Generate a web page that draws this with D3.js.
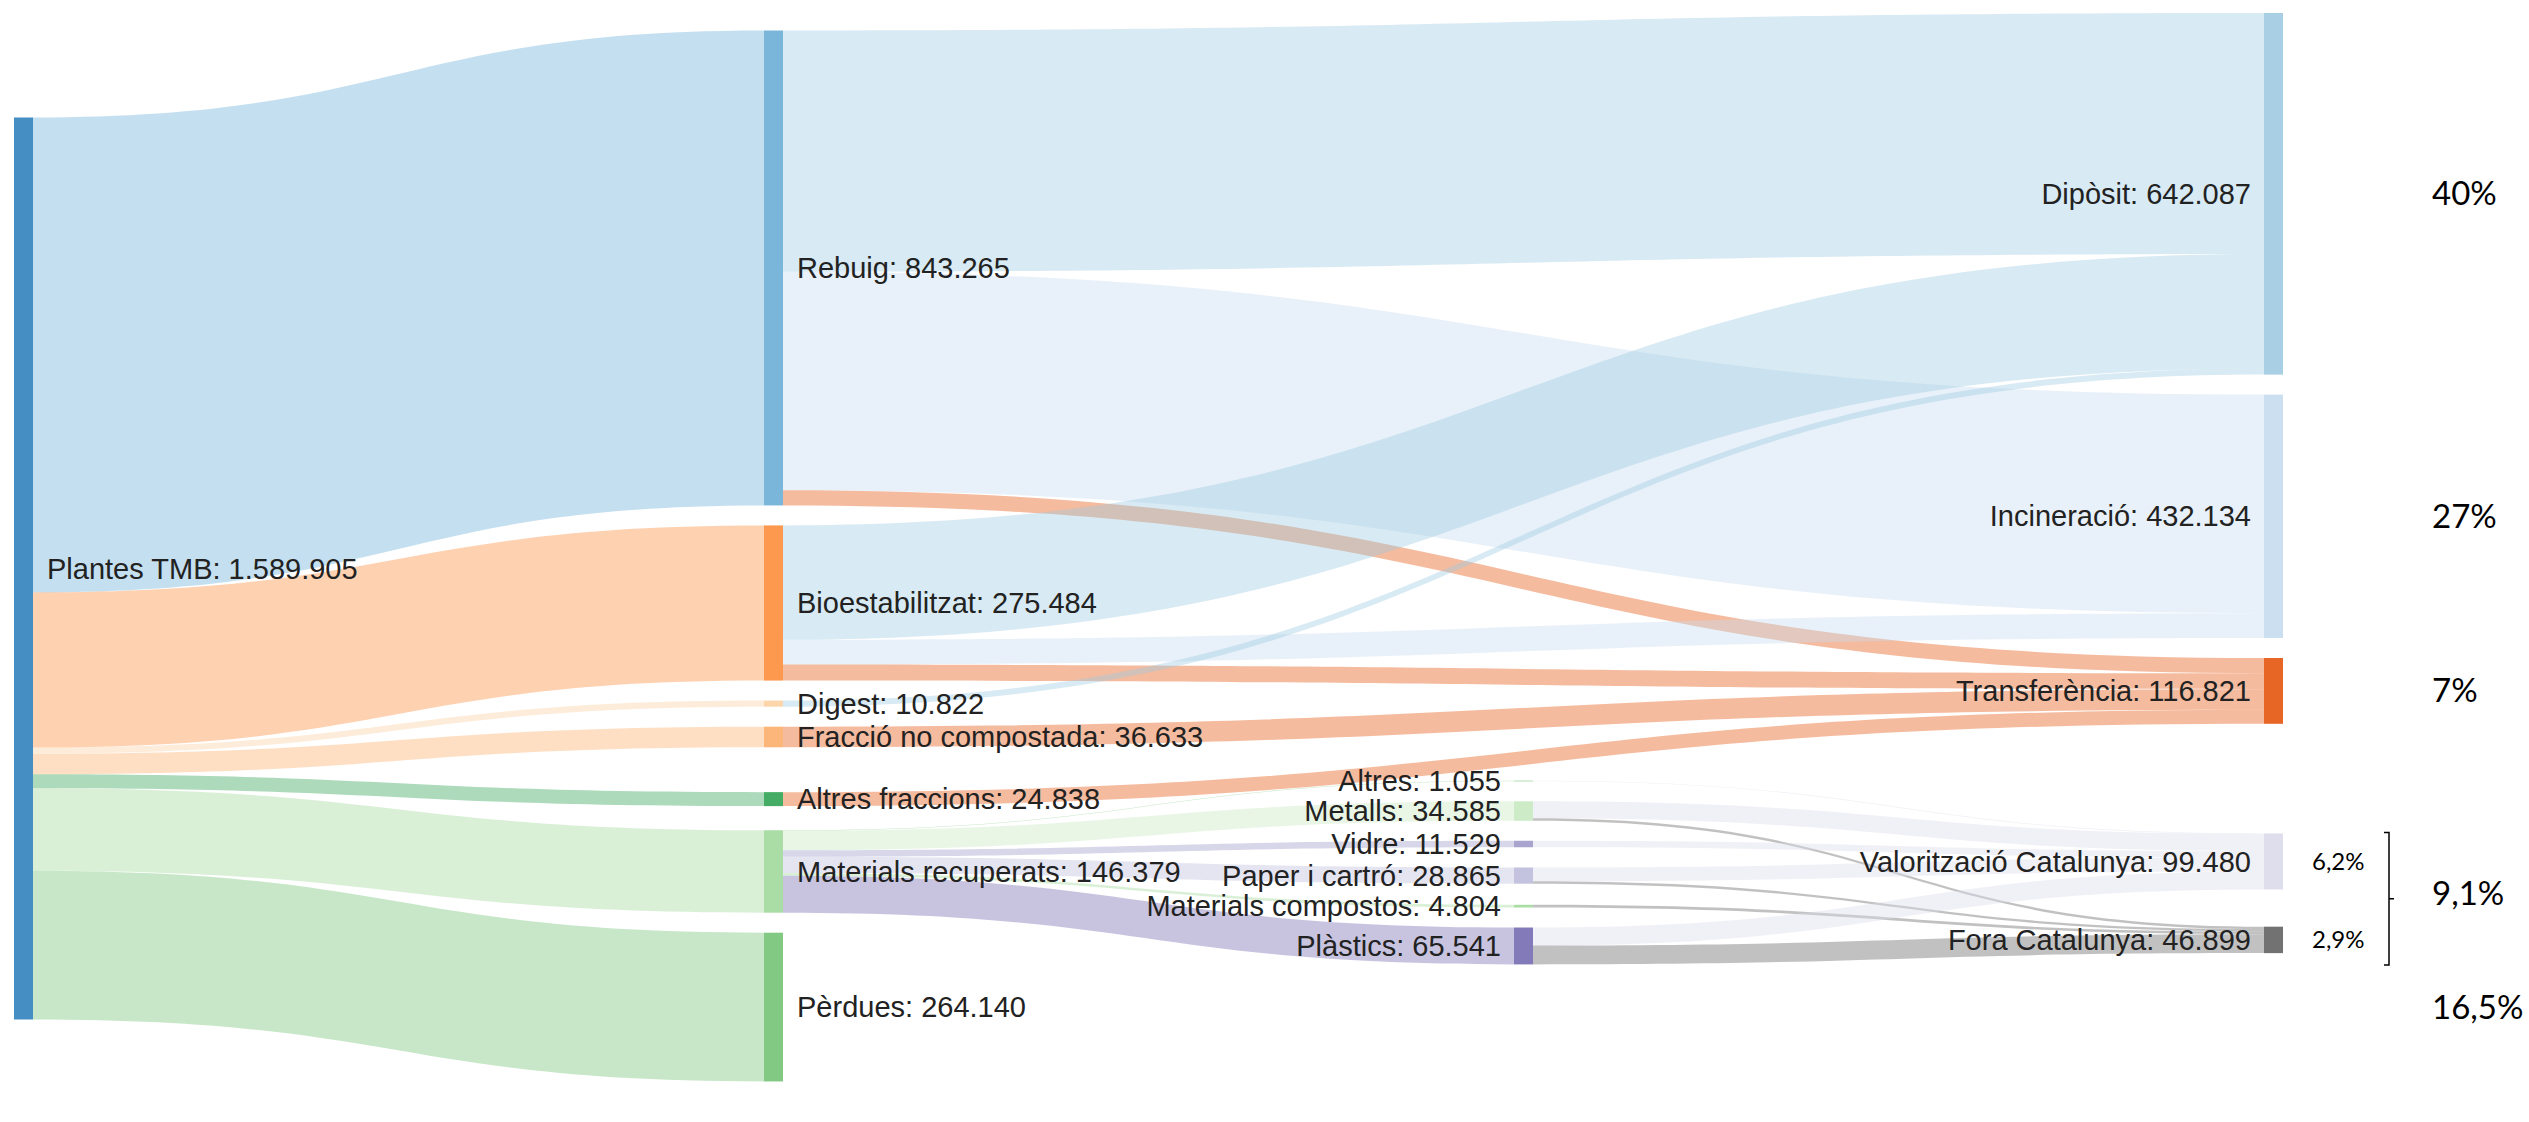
<!DOCTYPE html>
<html>
<head>
<meta charset="utf-8">
<script src="https://cdn.jsdelivr.net/npm/d3@7"></script>
<style>
	body { margin: 0; background: #fff; overflow: hidden; }
	svg { display: block; }
	.node-label { font-family: 'Liberation Sans', Arial, sans-serif; font-size: 29px; fill: #222; }
	.share-big { font-family: Lato, 'Open Sans', sans-serif; font-size: 33px; fill: #000; }
	.share-small { font-family: Lato, 'Open Sans', sans-serif; font-size: 24px; fill: #000; }
</style>
</head>
<body>
<svg id="chart"></svg>
<script>
/* global d3 */

// nodes (in drawing order inside each column)
const nodeNames = [
	'Plantes TMB',
	'Rebuig', 'Bioestabilitzat', 'Digest', 'Fracció no compostada', 'Altres fraccions', 'Materials recuperats', 'Pèrdues',
	'Altres', 'Metalls', 'Vidre', 'Paper i cartró', 'Materials compostos', 'Plàstics',
	'Dipòsit', 'Incineració', 'Transferència', 'Valorització Catalunya', 'Fora Catalunya',
];
const nodeTotals = [
	1589905,
	843265, 275484, 10822, 36633, 24838, 146379, 264140,
	1055, 34585, 11529, 28865, 4804, 65541,
	642087, 432134, 116821, 99480, 46899,
];
const nodeColors = [
	'#3182bd',
	'#6baed6', '#fd8d3c', '#fdd0a2', '#fdae6b', '#31a354', '#a1d99b', '#74c476',
	'#74c476', '#c7e9c0', '#9e9ac8', '#bcbddc', '#a1d99b', '#756bb1',
	'#9ecae1', '#c6dbef', '#e6550d', '#dadaeb', '#636363',
];

// flows (tones)
const linkSources = [
	'Plantes TMB', 'Plantes TMB', 'Plantes TMB', 'Plantes TMB', 'Plantes TMB', 'Plantes TMB', 'Plantes TMB',
	'Rebuig', 'Rebuig', 'Rebuig',
	'Bioestabilitzat', 'Bioestabilitzat', 'Bioestabilitzat',
	'Digest', 'Fracció no compostada', 'Altres fraccions',
	'Materials recuperats', 'Materials recuperats', 'Materials recuperats', 'Materials recuperats', 'Materials recuperats', 'Materials recuperats',
	'Altres', 'Metalls', 'Metalls', 'Vidre', 'Paper i cartró', 'Paper i cartró', 'Materials compostos', 'Plàstics', 'Plàstics',
];
const linkTargets = [
	'Rebuig', 'Bioestabilitzat', 'Digest', 'Fracció no compostada', 'Altres fraccions', 'Materials recuperats', 'Pèrdues',
	'Dipòsit', 'Incineració', 'Transferència',
	'Dipòsit', 'Incineració', 'Transferència',
	'Dipòsit', 'Transferència', 'Transferència',
	'Altres', 'Metalls', 'Vidre', 'Paper i cartró', 'Materials compostos', 'Plàstics',
	'Valorització Catalunya', 'Valorització Catalunya', 'Fora Catalunya', 'Valorització Catalunya',
	'Valorització Catalunya', 'Fora Catalunya', 'Fora Catalunya', 'Valorització Catalunya', 'Fora Catalunya',
];
const linkValues = [
	843265, 275484, 10822, 36633, 24838, 146379, 264140,
	428131, 388134, 27000,
	203134, 44000, 28350,
	10822, 36633, 24838,
	1055, 34585, 11529, 28865, 4804, 65541,
	1055, 30285, 4300, 11529, 24611, 4254, 4804, 32000, 33541,
];

// share annotations on the right
const shareLabels = ['40%', '27%', '7%', '9,1%', '16,5%'];
const shareNodes = [['Dipòsit'], ['Incineració'], ['Transferència'], ['Valorització Catalunya', 'Fora Catalunya'], ['Pèrdues']];
const subShareLabels = ['6,2%', '2,9%'];
const subShareNodes = ['Valorització Catalunya', 'Fora Catalunya'];

const width = 2529;
const height = 1122;
const extent = {x0: 14, x1: 2283, y0: 13, y1: 1124};
const nodeWidth = 19;
const nodePadding = 20;
const bandHeight = 902;
const iterations = 6;

const numberFormat = d3.formatLocale({decimal: ',', thousands: '.', grouping: [3], currency: ['', '']}).format(',');

// ---- build graph
const nodes = nodeNames.map((name, i) => ({
	name, index: i, total: nodeTotals[i], color: nodeColors[i], sourceLinks: [], targetLinks: [],
}));
const byName = new Map(nodes.map(n => [n.name, n]));
const links = linkValues.map((value, i) => {
	const link = {source: byName.get(linkSources[i]), target: byName.get(linkTargets[i]), value, index: i};
	link.source.sourceLinks.push(link);
	link.target.targetLinks.push(link);
	return link;
});

nodes.forEach(n => {
	n.value = Math.max(d3.sum(n.sourceLinks, l => l.value), d3.sum(n.targetLinks, l => l.value));
});

// depth = longest path from the source; end points after the first stage go to the last column
nodes.forEach(n => { n.layer = 0; });
for (let pass = 0; pass < nodes.length; pass++) {
	links.forEach(l => { l.target.layer = Math.max(l.target.layer, l.source.layer + 1); });
}
const maxLayer = d3.max(nodes, n => n.layer);
nodes.forEach(n => {
	if (!n.sourceLinks.length && n.layer > 1) {
		n.layer = maxLayer;
	}
});

const x = d3.scaleLinear().domain([0, maxLayer]).range([extent.x0, extent.x1 - nodeWidth]);
const columns = d3.range(maxLayer + 1).map(k => nodes.filter(n => n.layer === k));
const ky = d3.scaleLinear()
	.domain([0, d3.max(columns, c => d3.sum(c, n => n.value))])
	.range([0, bandHeight]);

nodes.forEach(n => {
	n.x0 = x(n.layer);
	n.x1 = n.x0 + nodeWidth;
});
links.forEach(l => { l.width = ky(l.value); });

// ---- vertical layout (relaxation, order inside each column kept, source column stays centred)
const py = nodePadding;
const byY = (a, b) => a.y0 - b.y0;
const bySourceY = (a, b) => byY(a.source, b.source) || a.index - b.index;
const byTargetY = (a, b) => byY(a.target, b.target) || a.index - b.index;

function reorderNodeLinks(node) {
	node.targetLinks.forEach(l => l.source.sourceLinks.sort(byTargetY));
	node.sourceLinks.forEach(l => l.target.targetLinks.sort(bySourceY));
}

columns.forEach(column => {
	let y = extent.y0;
	column.forEach(n => {
		n.y0 = y;
		n.y1 = y + ky(n.value);
		y = n.y1 + py;
	});
	const spare = (extent.y1 - y + py) / (column.length + 1);
	column.forEach((n, i) => {
		n.y0 += spare * (i + 1);
		n.y1 += spare * (i + 1);
	});
	column.forEach(n => {
		n.sourceLinks.sort(byTargetY);
		n.targetLinks.sort(bySourceY);
	});
});

function targetTop(source, target) {
	let y = source.y0 - (source.sourceLinks.length - 1) * py / 2;
	for (const l of source.sourceLinks) {
		if (l.target === target) break;
		y += l.width + py;
	}
	for (const l of target.targetLinks) {
		if (l.source === source) break;
		y -= l.width;
	}
	return y;
}

function sourceTop(source, target) {
	let y = target.y0 - (target.targetLinks.length - 1) * py / 2;
	for (const l of target.targetLinks) {
		if (l.source === source) break;
		y += l.width + py;
	}
	for (const l of source.sourceLinks) {
		if (l.target === target) break;
		y -= l.width;
	}
	return y;
}

function pushDown(column, y, i, alpha) {
	for (; i < column.length; ++i) {
		const n = column[i];
		const dy = (y - n.y0) * alpha;
		if (dy > 1e-6) {
			n.y0 += dy;
			n.y1 += dy;
		}
		y = n.y1 + py;
	}
}

function pushUp(column, y, i, alpha) {
	for (; i >= 0; --i) {
		const n = column[i];
		const dy = (n.y1 - y) * alpha;
		if (dy > 1e-6) {
			n.y0 -= dy;
			n.y1 -= dy;
		}
		y = n.y0 - py;
	}
}

function resolveCollisions(column, alpha) {
	const i = column.length >> 1;
	const subject = column[i];
	pushUp(column, subject.y0 - py, i - 1, alpha);
	pushDown(column, subject.y1 + py, i + 1, alpha);
	pushUp(column, extent.y1, column.length - 1, alpha);
	pushDown(column, extent.y0, 0, alpha);
}

for (let it = 0; it < iterations; ++it) {
	const alpha = Math.pow(0.99, it);
	const beta = Math.max(1 - alpha, (it + 1) / iterations);

	for (let c = columns.length - 2; c >= 1; --c) {
		columns[c].forEach(source => {
			let y = 0;
			let w = 0;
			source.sourceLinks.forEach(l => {
				const v = l.value * (l.target.layer - source.layer);
				y += sourceTop(source, l.target) * v;
				w += v;
			});
			if (!(w > 0)) return;
			const dy = (y / w - source.y0) * alpha;
			source.y0 += dy;
			source.y1 += dy;
			reorderNodeLinks(source);
		});
		resolveCollisions(columns[c], beta);
	}

	for (let c = 1; c < columns.length; ++c) {
		columns[c].forEach(target => {
			let y = 0;
			let w = 0;
			target.targetLinks.forEach(l => {
				const v = l.value * (target.layer - l.source.layer);
				y += targetTop(l.source, target) * v;
				w += v;
			});
			if (!(w > 0)) return;
			const dy = (y / w - target.y0) * alpha;
			target.y0 += dy;
			target.y1 += dy;
			reorderNodeLinks(target);
		});
		resolveCollisions(columns[c], beta);
	}
}

// link ports
nodes.forEach(n => {
	n.sourceLinks.sort(byTargetY);
	n.targetLinks.sort(bySourceY);
	let ys = n.y0;
	n.sourceLinks.forEach(l => {
		l.sy0 = ys;
		l.sy1 = ys + l.width;
		ys = l.sy1;
	});
	let yt = n.y0;
	n.targetLinks.forEach(l => {
		l.ty0 = yt;
		l.ty1 = yt + l.width;
		yt = l.ty1;
	});
});

function ribbon(l) {
	const xs = l.source.x1;
	const xt = l.target.x0;
	const xm = d3.interpolateNumber(xs, xt)(0.5);
	return `M${xs},${l.sy0}C${xm},${l.sy0} ${xm},${l.ty0} ${xt},${l.ty0}`
		+ `L${xt},${l.ty1}C${xm},${l.ty1} ${xm},${l.sy1} ${xs},${l.sy1}Z`;
}

// ---- draw
const svg = d3.select('#chart')
	.attr('width', width)
	.attr('height', height);

svg.append('g')
	.attr('class', 'links')
	.selectAll('path')
	.data(links)
	.enter().append('path')
	.attr('d', ribbon)
	.attr('fill', l => l.target.color)
	.attr('fill-opacity', 0.4);

svg.append('g')
	.attr('class', 'nodes')
	.selectAll('rect')
	.data(nodes)
	.enter().append('rect')
	.attr('x', n => n.x0)
	.attr('y', n => n.y0)
	.attr('width', nodeWidth)
	.attr('height', n => Math.max(0.5, n.y1 - n.y0))
	.attr('fill', n => n.color)
	.attr('fill-opacity', 0.9);

svg.append('g')
	.selectAll('text')
	.data(nodes)
	.enter().append('text')
	.attr('class', 'node-label')
	.attr('x', n => (n.layer < 2 ? n.x1 + 14 : n.x0 - 13))
	.attr('y', n => (n.y0 + n.y1) / 2)
	.attr('dy', '0.35em')
	.attr('text-anchor', n => (n.layer < 2 ? 'start' : 'end'))
	.text(n => `${n.name}: ${numberFormat(n.total)}`);

// share annotations
const shareX = extent.x1 + 149;
svg.append('g')
	.selectAll('text')
	.data(shareLabels)
	.enter().append('text')
	.attr('class', 'share-big')
	.attr('x', shareX)
	.attr('y', (d, i) => {
		const group = shareNodes[i].map(name => byName.get(name));
		return (d3.min(group, n => n.y0) + d3.max(group, n => n.y1)) / 2;
	})
	.attr('dy', '0.35em')
	.text(d => d);

svg.append('g')
	.selectAll('text')
	.data(subShareLabels)
	.enter().append('text')
	.attr('class', 'share-small')
	.attr('x', extent.x1 + 29)
	.attr('y', (d, i) => {
		const n = byName.get(subShareNodes[i]);
		return (n.y0 + n.y1) / 2;
	})
	.attr('dy', '0.35em')
	.text(d => d);

// bracket joining the two sub shares
const bracketTop = byName.get(subShareNodes[0]).y0 - 1;
const bracketBottom = byName.get(subShareNodes[1]).y1 + 12;
const bracketX = extent.x1 + 106;
const bracketMid = (bracketTop + bracketBottom) / 2;
svg.append('path')
	.attr('d', `M${bracketX - 5},${bracketTop}H${bracketX}V${bracketBottom}H${bracketX - 5}M${bracketX},${bracketMid}H${bracketX + 5}`)
	.attr('fill', 'none')
	.attr('stroke', '#000')
	.attr('stroke-width', 1.5);
</script>
</body>
</html>
